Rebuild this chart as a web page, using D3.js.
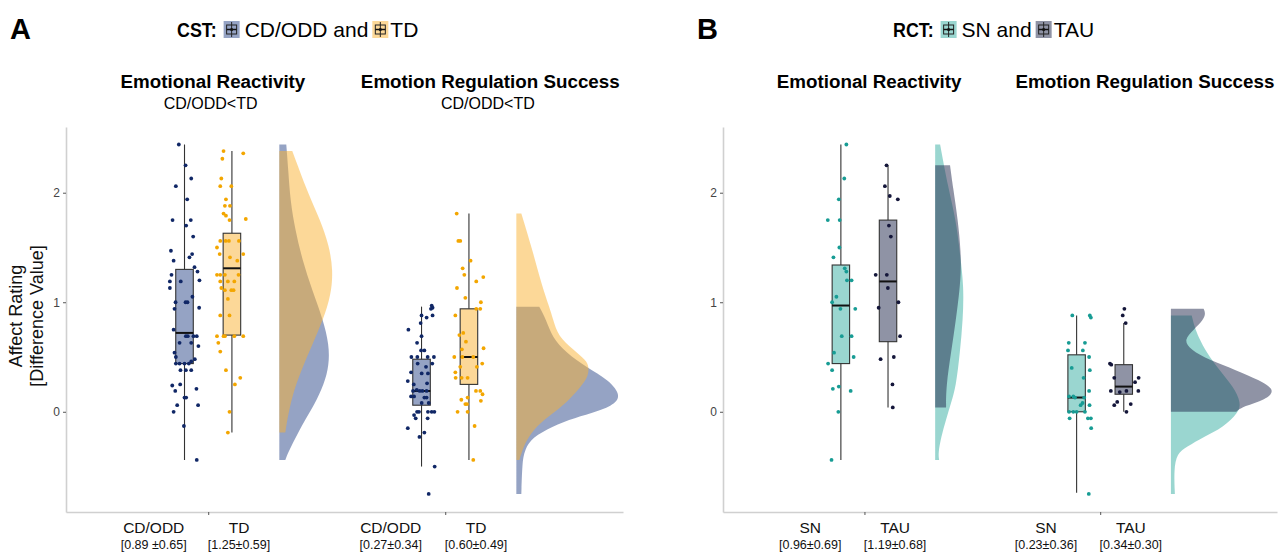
<!DOCTYPE html>
<html>
<head>
<meta charset="utf-8">
<script src="https://cdn.jsdelivr.net/npm/d3@7"></script>
<style>
  body { margin: 0; background: #fff; }
  svg { font-family: 'Liberation Sans', Arial, sans-serif; }
</style>
</head>
<body>
<div id="chart"></div>
<script>
// ---------------- data ----------------
const conditions = ['Emotional Reactivity', 'Emotion Regulation Success'];
const cstGroups = ['CD/ODD', 'TD'];
const rctGroups = ['SN', 'TAU'];
const cstContrast = ['CD/ODD<TD', 'CD/ODD<TD'];
const cstStats = [['[0.89 ±0.65]', '[1.25±0.59]'], ['[0.27±0.34]', '[0.60±0.49]']];
const rctStats = [['[0.96±0.69]', '[1.19±0.68]'], ['[0.23±0.36]', '[0.34±0.30]']];
const yTicks = [0, 1, 2];

// points: [difference value, jitter (-1..1)]
const cstErCdodd = [[2.44,-0.38],[2.25,0.07],[2.13,0.45],[2.06,-0.58],[1.94,0.18],[1.75,-0.8],[1.75,0.42],[1.70,0.11],[1.60,0.58],[1.47,-0.91],[1.38,-0.73],[1.44,0.51],[1.41,0.33],[1.32,0.67],[1.28,0.87],[1.25,-0.87],[1.19,-0.25],[1.20,1.0],[1.19,-0.98],[1.13,-0.98],[1.05,0.53],[1.0,-0.6],[1.0,0.07],[1.0,0.2],[0.94,-0.67],[0.95,0.98],[0.75,-0.73],[0.69,0.82],[0.69,0.09],[0.69,0.22],[0.69,0.6],[0.63,-0.33],[0.63,0.45],[0.60,0.93],[0.54,-0.67],[0.50,-0.58],[0.48,0.69],[0.46,0.45],[0.44,-0.58],[0.44,-0.33],[0.44,0],[0.44,0.29],[0.38,-0.27],[0.38,0.09],[0.38,0.45],[0.24,-0.82],[0.25,-0.29],[0.19,-0.62],[0.21,0.8],[0.13,0],[0.13,0.11],[0.06,-0.49],[0.06,0.91],[0.0,-0.73],[-0.13,-0.04],[-0.44,0.82]];
const cstErTd = [[2.38,-0.56],[2.36,0.76],[2.31,-0.64],[2.13,-0.71],[2.06,-0.78],[2.06,-0.04],[1.94,-0.4],[1.88,-0.13],[1.88,-0.47],[1.81,-0.56],[1.79,-0.4],[1.76,0.93],[1.75,-0.16],[1.50,-1.0],[1.56,-0.78],[1.56,-0.42],[1.56,-0.2],[1.56,0.47],[1.44,0.76],[1.44,-0.82],[1.41,-0.13],[1.38,0.36],[1.25,-1.0],[1.25,-0.78],[1.25,-0.47],[1.25,0.44],[1.19,-0.78],[1.19,-0.27],[1.19,0.16],[1.13,-0.71],[1.11,-0.47],[1.11,-0.04],[1.11,0.11],[1.03,-0.27],[0.88,-0.78],[0.88,-0.16],[0.69,-1.0],[0.69,-0.56],[0.69,-0.47],[0.69,0.16],[0.69,0.76],[0.63,-0.91],[0.55,-0.78],[0.38,-0.4],[0.31,0.56],[0.25,0.2],[0.0,-0.16],[-0.19,-0.27]];
const cstErsCdodd = [[0.97,0.68],[0.95,0.74],[0.94,0.63],[0.88,0],[0.86,0.34],[0.88,0.74],[0.81,-0.06],[0.75,-0.88],[0.69,0],[0.63,-0.3],[0.56,-0.03],[0.56,0.19],[0.50,-0.68],[0.50,-0.28],[0.50,0.41],[0.50,0.83],[0.44,-0.26],[0.44,0.72],[0.41,0.3],[0.36,-0.7],[0.35,0.01],[0.35,0.43],[0.28,-0.92],[0.26,0.37],[0.25,-0.52],[0.20,-0.32],[0.19,0.06],[0.19,-0.57],[0.19,-0.12],[0.19,0.34],[0.14,-0.7],[0.14,-0.5],[0.13,0.19],[0.13,0.34],[0.08,0.01],[0.08,0.48],[0.0,-0.3],[0.0,-0.17],[0.0,0.43],[0.0,0.68],[0.0,0.86],[-0.03,-0.5],[-0.06,-0.39],[-0.06,0.41],[-0.15,-0.92],[-0.19,0.19],[-0.23,-0.14],[-0.50,0.88],[-0.75,0.48]];
const cstErsTd = [[1.81,-0.82],[1.56,-0.71],[1.56,-0.58],[1.38,0.11],[1.31,-0.42],[1.25,-0.31],[1.23,0.96],[1.19,0.49],[1.13,-0.8],[1.04,-0.24],[1.0,0.8],[0.88,-0.91],[0.94,0.49],[0.94,0.76],[0.72,-0.38],[0.70,-0.64],[0.64,-0.2],[0.58,0.98],[0.57,-0.47],[0.50,-0.98],[0.50,-0.44],[0.50,0.29],[0.44,0.89],[0.41,-0.58],[0.41,0.53],[0.36,-0.91],[0.31,-0.49],[0.31,-0.09],[0.31,-0.89],[0.19,0.47],[0.19,0.76],[0.16,0.91],[0.13,-0.09],[0.11,-0.51],[0.10,0.8],[0.07,-0.24],[0.07,-0.13],[0.0,-0.76],[0.0,-0.09],[-0.13,0.38],[-0.44,0.29]];
const rctErSn = [[2.44,0.37],[2.13,0.23],[1.94,-0.14],[1.75,-0.88],[1.75,-0.08],[1.50,-0.1],[1.41,-0.5],[1.31,0.26],[1.28,0.37],[1.20,0.41],[1.20,0.72],[1.05,-0.3],[1.0,-0.59],[0.94,-0.03],[0.94,0.97],[0.69,0.06],[0.69,0.72],[0.54,-0.46],[0.50,0.86],[0.44,-0.86],[0.38,-0.59],[0.21,-0.54],[0.23,-0.14],[0.19,0.66],[0.0,-0.17],[-0.44,-0.63]];
const rctErTau = [[2.25,-0.1],[2.06,-0.21],[1.97,0.12],[1.94,0.66],[1.70,0.06],[1.60,0.19],[1.25,-0.83],[1.25,-0.08],[1.13,-0.01],[0.95,-0.63],[1.0,0.7],[0.69,0.81],[0.48,-0.5],[0.50,0.39],[0.25,0.3],[0.04,0.32]];
const rctErsSn = [[0.88,-0.29],[0.88,0.89],[0.86,0.96],[0.63,-0.53],[0.63,0.56],[0.56,-0.58],[0.56,0.42],[0.50,0.84],[0.40,-0.33],[0.38,0.89],[0.31,0.47],[0.19,0.84],[0.14,-0.22],[0.14,-0.51],[0.13,-0.11],[0.13,0.51],[0.08,0.4],[0.06,0.27],[0.06,0.87],[0.0,-0.51],[0.0,-0.22],[0.0,0],[0.0,0.56],[-0.06,-0.47],[-0.06,0.76],[-0.06,0.96],[-0.15,0.98],[-0.75,0.82]];
const rctErsTau = [[0.94,0.04],[0.88,-0.07],[0.81,0.13],[0.44,-0.93],[0.43,-0.84],[0.31,-0.64],[0.31,1.0],[0.27,0.76],[0.19,-0.87],[0.18,-0.27],[0.19,0.18],[0.19,0.98],[0.09,-0.44],[0.06,-0.64],[0.07,0.47],[0.0,0.18]];

// boxplots: [lower whisker, q1, median, q3, upper whisker]
const cstErCdoddBox = [-0.44, 0.44, 0.72, 1.30, 2.44];
const cstErTdBox = [-0.19, 0.70, 1.31, 1.63, 2.38];
const cstErsCdoddBox = [-0.50, 0.06, 0.19, 0.48, 0.96];
const cstErsTdBox = [-0.44, 0.25, 0.50, 0.94, 1.81];
const rctErSnBox = [-0.44, 0.44, 0.97, 1.34, 2.44];
const rctErTauBox = [0.04, 0.64, 1.19, 1.75, 2.25];
const rctErsSnBox = [-0.74, 0.0, 0.13, 0.52, 0.88];
const rctErsTauBox = [0.0, 0.16, 0.23, 0.43, 0.81];

// half violins: [difference value, density]
const cstErCdoddDens = [[2.44,0.07],[2.21,0.09],[1.93,0.11],[1.66,0.16],[1.39,0.23],[1.11,0.33],[0.84,0.44],[0.61,0.50],[0.43,0.50],[0.25,0.45],[0.06,0.35],[-0.07,0.26],[-0.26,0.15],[-0.37,0.09],[-0.44,0.06]];
const cstErTdDens = [[2.38,0.13],[2.16,0.22],[1.93,0.32],[1.75,0.41],[1.52,0.50],[1.29,0.54],[1.07,0.52],[0.84,0.44],[0.61,0.33],[0.38,0.22],[0.15,0.13],[-0.07,0.08],[-0.19,0.06]];
const cstErsCdoddDens = [[0.96,0.23],[0.84,0.30],[0.68,0.36],[0.54,0.50],[0.41,0.70],[0.29,0.93],[0.14,1.06],[0.05,0.96],[-0.01,0.76],[-0.07,0.53],[-0.16,0.30],[-0.26,0.13],[-0.37,0.08],[-0.46,0.06],[-0.75,0.05]];
const cstErsTdDens = [[1.81,0.05],[1.45,0.17],[1.14,0.26],[0.96,0.33],[0.84,0.37],[0.69,0.42],[0.57,0.57],[0.47,0.70],[0.41,0.73],[0.32,0.72],[0.23,0.65],[0.08,0.50],[-0.01,0.37],[-0.13,0.20],[-0.26,0.10],[-0.38,0.05],[-0.44,0.03]];
const rctErSnDens = [[2.44,0.05],[2.05,0.13],[1.75,0.21],[1.45,0.25],[1.14,0.29],[0.84,0.28],[0.54,0.25],[0.23,0.21],[0.08,0.16],[-0.07,0.11],[-0.23,0.06],[-0.38,0.03],[-0.44,0.04]];
const rctErTauDens = [[2.25,0.15],[2.05,0.18],[1.75,0.23],[1.45,0.26],[1.29,0.26],[1.14,0.25],[0.84,0.21],[0.54,0.16],[0.23,0.11],[0.04,0.11]];
const rctErsSnDens = [[0.88,0.21],[0.77,0.24],[0.68,0.28],[0.54,0.36],[0.38,0.49],[0.23,0.63],[0.08,0.71],[-0.01,0.68],[-0.14,0.53],[-0.23,0.33],[-0.32,0.16],[-0.38,0.06],[-0.53,0.03],[-0.75,0.04]];
const rctErsTauDens = [[0.94,0.33],[0.90,0.35],[0.84,0.33],[0.75,0.23],[0.66,0.13],[0.57,0.19],[0.47,0.39],[0.38,0.66],[0.29,0.89],[0.20,1.06],[0.11,0.96],[0.05,0.73],[0.0,0.66]];

// ---------------- layout ----------------
const width = 1286, height = 553;
const svg = d3.select('#chart').append('svg')
  .attr('width', width)
  .attr('height', height);

const y = d3.scaleLinear().domain([-0.915, 2.6]).range([512, 127]);
const densW = d3.scaleLinear().domain([0, 1]).range([0, 0.42]); // density -> category units
const groupOff = 0.1, boxW = 0.074, jitW = 0.063, violinOff = 0.3;

const panels = [
  {
    letter: 'A', letterX: 10, design: 'CST:', left: 66, right: 623, headX: 177, groups: cstGroups,
    fill: ['#2b4789', '#f9b131'], dot: ['#102766', '#f3a600'], yTitle: true,
    facets: [
      { title: conditions[0], sub: cstContrast[0], stats: cstStats[0],
        sets: [[cstErCdodd, cstErCdoddBox, cstErCdoddDens], [cstErTd, cstErTdBox, cstErTdDens]] },
      { title: conditions[1], sub: cstContrast[1], stats: cstStats[1],
        sets: [[cstErsCdodd, cstErsCdoddBox, cstErsCdoddDens], [cstErsTd, cstErsTdBox, cstErsTdDens]] },
    ],
  },
  {
    letter: 'B', letterX: 697, design: 'RCT:', left: 723, right: 1277, headX: 893, groups: rctGroups,
    fill: ['#35ada1', '#1f274b'], dot: ['#179c94', '#14163a'], yTitle: false,
    facets: [
      { title: conditions[0], sub: null, stats: rctStats[0],
        sets: [[rctErSn, rctErSnBox, rctErSnDens], [rctErTau, rctErTauBox, rctErTauDens]] },
      { title: conditions[1], sub: null, stats: rctStats[1],
        sets: [[rctErsSn, rctErsSnBox, rctErsSnDens], [rctErsTau, rctErsTauBox, rctErsTauDens]] },
    ],
  },
];

panels.forEach(drawPanel);

function legendIcon(g, x0, color) {
  const ic = g.append('g').attr('transform', 'translate(' + x0 + ',' + 21 + ')');
  ic.append('rect').attr('width', 16).attr('height', 17)
    .attr('fill', color).attr('fill-opacity', 0.5);
  ic.append('line').attr('x1', 8).attr('x2', 8).attr('y1', 1).attr('y2', 16)
    .attr('stroke', '#222').attr('stroke-width', 1);
  ic.append('rect').attr('x', 3).attr('y', 4).attr('width', 10).attr('height', 9)
    .attr('fill', 'none').attr('stroke', '#222').attr('stroke-width', 1);
  ic.append('line').attr('x1', 3).attr('x2', 13).attr('y1', 8.5).attr('y2', 8.5)
    .attr('stroke', '#111').attr('stroke-width', 1.5);
  ic.append('circle').attr('cx', 8).attr('cy', 8.5).attr('r', 1.6).attr('fill', '#111');
}

function drawPanel(p) {
  const g = svg.append('g');
  const x = d3.scaleLinear().domain([0.4, 2.75]).range([p.left, p.right]);

  // panel letter
  g.append('text')
    .attr('x', p.letterX)
    .attr('y', 39)
    .attr('font-size', 29)
    .attr('font-weight', 'bold')
    .text(p.letter);

  // header: "CST: [icon] CD/ODD and [icon] TD"
  let cx = p.headX;
  const t1 = g.append('text')
    .attr('transform', 'translate(' + cx + ',37) scale(0.85,1)')
    .attr('font-size', 21).attr('font-weight', 'bold').text(p.design);
  cx += t1.node().getComputedTextLength() * 0.85 + 7;
  legendIcon(g, cx, p.fill[0]);
  cx += 21;
  const t2 = g.append('text').attr('x', cx).attr('y', 37)
    .attr('font-size', 21).text(p.groups[0] + ' and');
  cx += t2.node().getComputedTextLength() + 4;
  legendIcon(g, cx, p.fill[1]);
  cx += 18;
  g.append('text').attr('x', cx).attr('y', 37)
    .attr('font-size', 21).text(p.groups[1]);

  // axes
  const yAxis = g.append('g')
    .attr('transform', 'translate(' + p.left + ',0)')
    .call(d3.axisLeft(y).tickValues(yTicks).tickFormat(d3.format('d')).tickSize(3).tickSizeOuter(0));
  const xAxis = g.append('g')
    .attr('transform', 'translate(0,512)')
    .call(d3.axisBottom(x).tickValues([1, 2]).tickFormat('').tickSize(3).tickSizeOuter(0));
  [yAxis, xAxis].forEach((a) => {
    a.select('.domain').attr('stroke', '#d0d0d0').attr('stroke-width', 1.6);
    a.selectAll('.tick line').attr('stroke', '#555');
    a.selectAll('.tick text').attr('fill', '#444').attr('font-size', 12)
      .attr('font-family', "'Liberation Sans', Arial, sans-serif");
  });

  if (p.yTitle) {
    const yt = g.append('text')
      .attr('transform', 'translate(' + (p.left - 44) + ',' + 316 + ') rotate(-90)')
      .attr('text-anchor', 'middle')
      .attr('font-size', 18)
      .attr('fill', '#111');
    yt.append('tspan').attr('x', 0).attr('dy', 0).text('Affect Rating');
    yt.append('tspan').attr('x', 0).attr('dy', 21).text('[Difference Value]');
  }

  const area = d3.area()
    .curve(d3.curveBasis)
    .y((d) => y(d[0]));

  p.facets.forEach((f, fi) => {
    const c = fi + 1;

    // facet titles
    g.append('text')
      .attr('x', x(c + 0.02 + fi * 0.17))
      .attr('y', 88)
      .attr('text-anchor', 'middle')
      .attr('font-size', 18.8)
      .attr('font-weight', 'bold')
      .text(f.title);
    if (f.sub) {
      g.append('text')
        .attr('x', x(c + 0.01 + fi * 0.17))
        .attr('y', 109)
        .attr('text-anchor', 'middle')
        .attr('font-size', 16)
        .text(f.sub);
    }

    // x labels
    [-0.23, 0.13].forEach((off, gi) => {
      g.append('text')
        .attr('x', x(c + off))
        .attr('y', 533)
        .attr('text-anchor', 'middle')
        .attr('font-size', 15.5)
        .attr('fill', '#111')
        .text(p.groups[gi]);
      g.append('text')
        .attr('x', x(c + off))
        .attr('y', 549)
        .attr('text-anchor', 'middle')
        .attr('font-size', 12.5)
        .attr('fill', '#111')
        .text(f.stats[gi]);
    });

    // half violins (second group drawn on top)
    f.sets.forEach((s, gi) => {
      const base = c + violinOff;
      g.append('path')
        .datum(s[2])
        .attr('fill', p.fill[gi])
        .attr('fill-opacity', 0.5)
        .attr('d', area.x0(x(base)).x1((d) => x(base + densW(d[1]))));
    });

    // boxplots
    f.sets.forEach((s, gi) => {
      const pos = c + (gi === 0 ? -groupOff : groupOff);
      const b = s[1];
      g.append('line')
        .attr('x1', x(pos)).attr('x2', x(pos))
        .attr('y1', y(b[0])).attr('y2', y(b[4]))
        .attr('stroke', '#333').attr('stroke-width', 1.1);
      g.append('rect')
        .attr('x', x(pos - boxW / 2))
        .attr('width', x(pos + boxW / 2) - x(pos - boxW / 2))
        .attr('y', y(b[3]))
        .attr('height', y(b[1]) - y(b[3]))
        .attr('fill', '#fff');
      g.append('rect')
        .attr('x', x(pos - boxW / 2))
        .attr('width', x(pos + boxW / 2) - x(pos - boxW / 2))
        .attr('y', y(b[3]))
        .attr('height', y(b[1]) - y(b[3]))
        .attr('fill', p.fill[gi])
        .attr('fill-opacity', 0.5)
        .attr('stroke', '#333')
        .attr('stroke-width', 1.1);
      g.append('line')
        .attr('x1', x(pos - boxW / 2)).attr('x2', x(pos + boxW / 2))
        .attr('y1', y(b[2])).attr('y2', y(b[2]))
        .attr('stroke', '#111').attr('stroke-width', 2);

      // jittered points
      g.append('g').selectAll('circle')
        .data(s[0])
        .join('circle')
        .attr('cx', (d) => x(pos + d[1] * jitW))
        .attr('cy', (d) => y(d[0]))
        .attr('r', 1.9)
        .attr('fill', p.dot[gi]);
    });
  });
}
</script>
</body>
</html>
